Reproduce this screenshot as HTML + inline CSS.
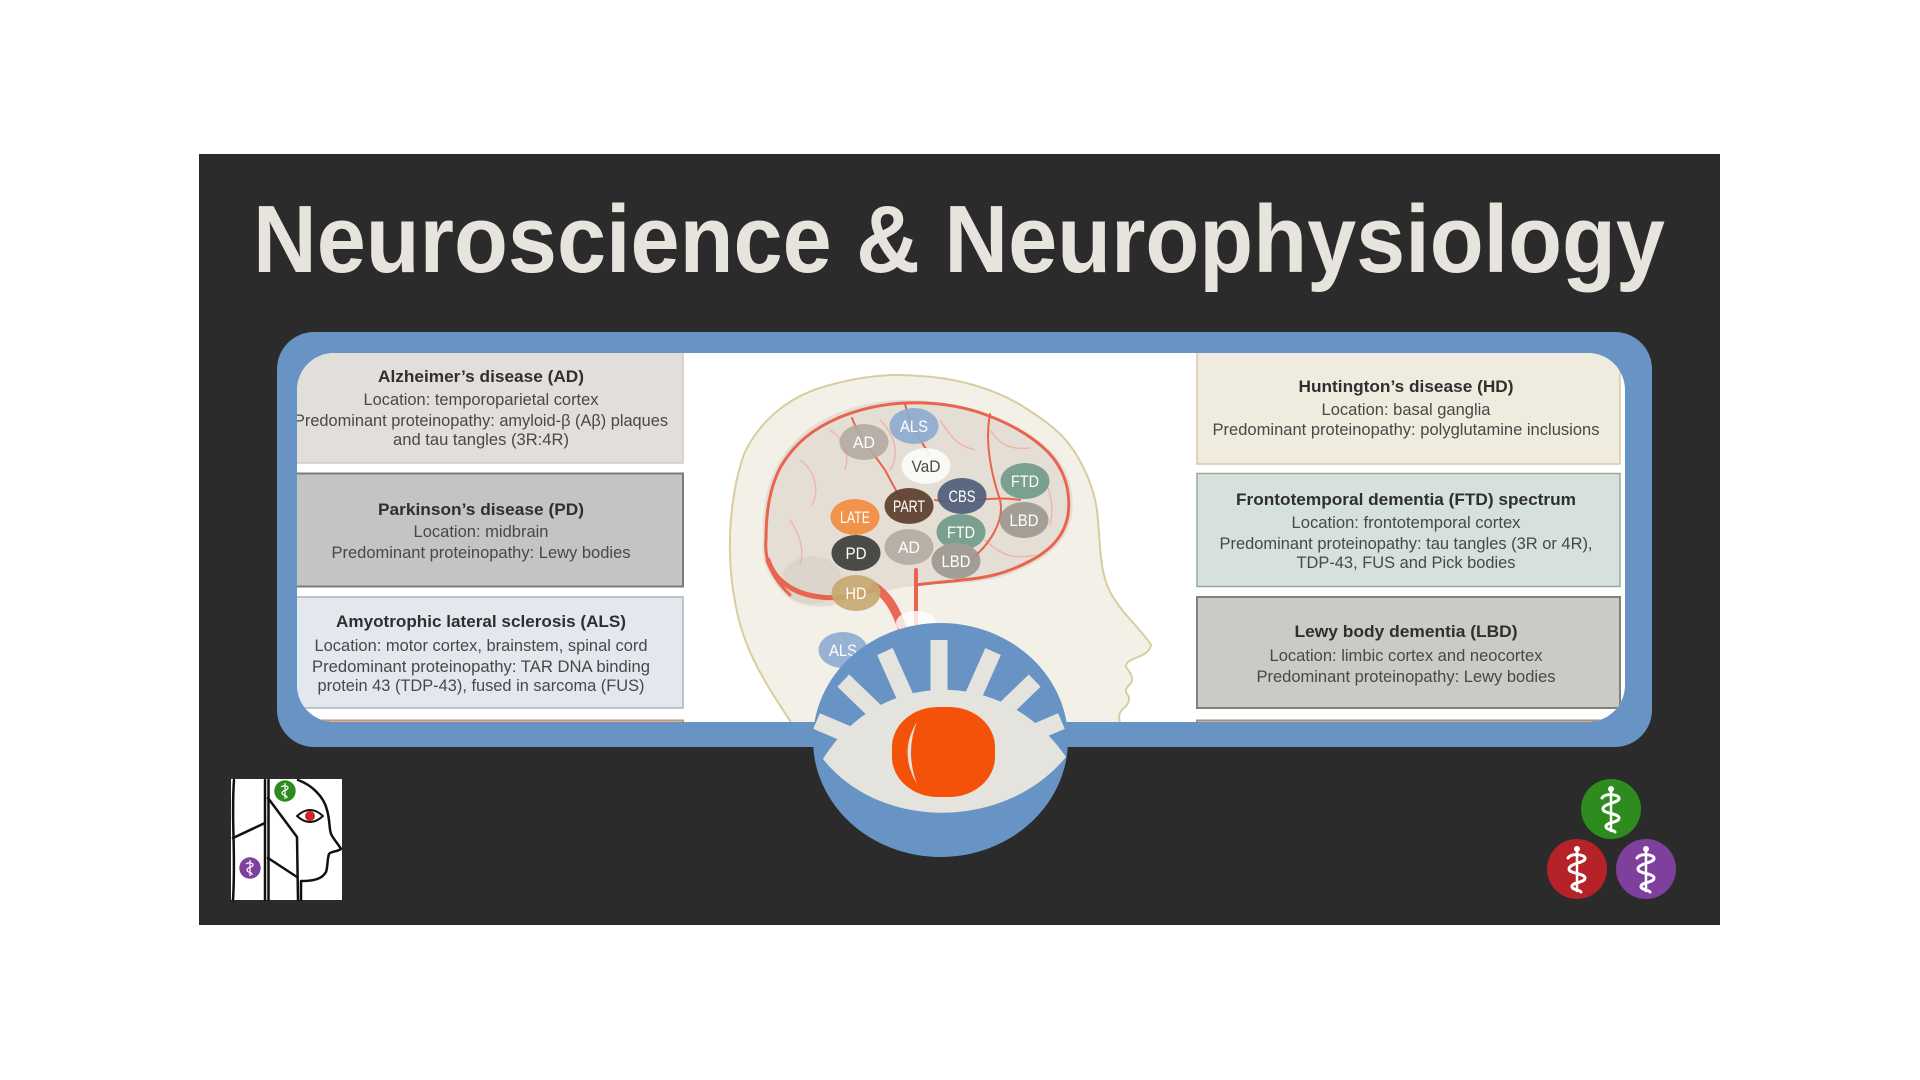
<!DOCTYPE html>
<html><head><meta charset="utf-8"><style>html,body{margin:0;padding:0;background:#fff}svg{display:block}</style></head>
<body>
<svg xmlns="http://www.w3.org/2000/svg" width="1920" height="1080" viewBox="0 0 1920 1080">
<defs>
<clipPath id="inner"><rect x="297" y="353" width="1328" height="369" rx="37"/></clipPath>
<clipPath id="eyec"><ellipse cx="940.5" cy="740" rx="127.5" ry="117"/></clipPath>
</defs>
<rect width="1920" height="1080" fill="#ffffff"/>
<rect x="199" y="154" width="1521" height="771" fill="#2b2b2b"/>
<text x="253" y="272" font-family="Liberation Sans, sans-serif" font-weight="bold" font-size="96" fill="#e6e4dd" textLength="1412" lengthAdjust="spacingAndGlyphs">Neuroscience &amp; Neurophysiology</text>

<rect x="277" y="332" width="1375" height="415" rx="37" fill="#6894c5"/>
<g clip-path="url(#inner)">
<rect x="297" y="353" width="1328" height="369" fill="#ffffff"/>

<!-- left boxes -->
<rect x="290" y="350" width="393" height="113" fill="#e2dfdb" stroke="#cfcac5" stroke-width="1.5"/>
<rect x="290" y="473.5" width="393" height="113" fill="#c4c4c4" stroke="#7b7b7b" stroke-width="2"/>
<rect x="290" y="597" width="393" height="111" fill="#e3e8ef" stroke="#a8b4c4" stroke-width="1.5"/>
<rect x="290" y="720.5" width="393" height="30" fill="#ead9c9" stroke="#c39677" stroke-width="2"/>
<!-- right boxes -->
<rect x="1197" y="350" width="423" height="114" fill="#efebdf" stroke="#d5cba6" stroke-width="1.5"/>
<rect x="1197" y="473.5" width="423" height="113" fill="#d6e1dc" stroke="#93aaa1" stroke-width="1.5"/>
<rect x="1197" y="597" width="423" height="111" fill="#cbcac4" stroke="#82827b" stroke-width="2"/>
<rect x="1197" y="720.5" width="423" height="30" fill="#e0d3c8" stroke="#a98d7a" stroke-width="2"/>

<g font-family="Liberation Sans, sans-serif" text-anchor="middle">
<g font-weight="bold" font-size="17" fill="#2f2f2f">
<text x="481" y="382" textLength="206" lengthAdjust="spacingAndGlyphs">Alzheimer’s disease (AD)</text>
<text x="481" y="515" textLength="206" lengthAdjust="spacingAndGlyphs">Parkinson’s disease (PD)</text>
<text x="481" y="627" textLength="290" lengthAdjust="spacingAndGlyphs">Amyotrophic  lateral sclerosis (ALS)</text>
<text x="1406" y="392" textLength="215" lengthAdjust="spacingAndGlyphs">Huntington’s disease (HD)</text>
<text x="1406" y="505" textLength="340" lengthAdjust="spacingAndGlyphs">Frontotemporal dementia (FTD) spectrum</text>
<text x="1406" y="637" textLength="223" lengthAdjust="spacingAndGlyphs">Lewy body dementia (LBD)</text>
</g>
<g font-size="16.5" fill="#484848">
<text x="481" y="405" textLength="235" lengthAdjust="spacingAndGlyphs">Location: temporoparietal cortex</text>
<text x="481" y="426" textLength="374" lengthAdjust="spacingAndGlyphs">Predominant proteinopathy: amyloid-β (Aβ) plaques</text>
<text x="481" y="445" textLength="176" lengthAdjust="spacingAndGlyphs">and tau tangles (3R:4R)</text>
<text x="481" y="537" textLength="135" lengthAdjust="spacingAndGlyphs">Location: midbrain</text>
<text x="481" y="558" textLength="299" lengthAdjust="spacingAndGlyphs">Predominant proteinopathy: Lewy bodies</text>
<text x="481" y="651" textLength="333" lengthAdjust="spacingAndGlyphs">Location: motor cortex, brainstem, spinal cord</text>
<text x="481" y="672" textLength="338" lengthAdjust="spacingAndGlyphs">Predominant proteinopathy: TAR DNA  binding</text>
<text x="481" y="691" textLength="327" lengthAdjust="spacingAndGlyphs">protein 43 (TDP-43), fused in sarcoma (FUS)</text>
<text x="1406" y="415" textLength="169" lengthAdjust="spacingAndGlyphs">Location: basal ganglia</text>
<text x="1406" y="435" textLength="387" lengthAdjust="spacingAndGlyphs">Predominant proteinopathy: polyglutamine inclusions</text>
<text x="1406" y="528" textLength="229" lengthAdjust="spacingAndGlyphs">Location: frontotemporal cortex</text>
<text x="1406" y="549" textLength="373" lengthAdjust="spacingAndGlyphs">Predominant proteinopathy: tau tangles (3R or 4R),</text>
<text x="1406" y="568" textLength="219" lengthAdjust="spacingAndGlyphs">TDP-43, FUS and Pick bodies</text>
<text x="1406" y="661" textLength="273" lengthAdjust="spacingAndGlyphs">Location: limbic  cortex and neocortex</text>
<text x="1406" y="682" textLength="299" lengthAdjust="spacingAndGlyphs">Predominant proteinopathy: Lewy bodies</text>
</g>
</g>

<!-- head -->
<path d="M 796 730 C 770 690, 745 655, 736 607 C 726 560, 728 500, 744 454 C 760 420, 790 395, 830 385 C 870 374, 900 374, 919 376 C 960 378, 995 390, 1019 404 C 1045 420, 1060 432, 1069 444 C 1085 465, 1094 490, 1097 510 C 1100 540, 1100 560, 1104 575 C 1108 592, 1115 600, 1122 610 C 1132 622, 1145 635, 1151 645 C 1150 652, 1143 655, 1138 657 C 1130 660, 1125 663, 1126 667 C 1130 672, 1134 678, 1131 683 C 1127 687, 1124 690, 1127 694 C 1131 698, 1129 704, 1123 709 C 1118 713, 1118 718, 1122 730 Z" fill="#f3f1e7" stroke="#d8cd9f" stroke-width="2"/>
<!-- brain -->
<path d="M 786 596 C 770 580, 760 560, 763 541 C 762 510, 765 490, 775 470 C 790 440, 810 425, 833 415 C 860 403, 886 400, 905 400 C 930 400, 953 403, 975 410 C 1003 420, 1030 432, 1050 450 C 1068 468, 1075 490, 1072 515 C 1068 540, 1050 555, 1030 565 C 1005 578, 985 582, 960 583 C 940 584, 920 585, 900 588 C 870 594, 850 602, 830 606 C 810 608, 795 604, 786 596 Z" fill="#e4ded5"/>
<ellipse cx="812" cy="580" rx="30" ry="24" fill="#dcd5cb"/>
<g fill="none" stroke="#f2b1a6" stroke-width="1.3">
<path d="M 800 460 C 815 470, 820 490, 812 505"/>
<path d="M 830 430 C 845 440, 850 455, 845 470"/>
<path d="M 880 420 C 895 435, 900 455, 890 470"/>
<path d="M 990 430 C 1000 445, 1010 450, 1030 448"/>
<path d="M 1040 470 C 1050 490, 1055 505, 1050 525"/>
<path d="M 985 540 C 1000 555, 1015 560, 1035 555"/>
<path d="M 790 520 C 800 535, 805 550, 800 565"/>
<path d="M 940 420 C 950 435, 955 445, 975 450"/>
</g>
<g fill="none" stroke="#e8644f" stroke-width="3" stroke-linecap="round">
<path d="M 790 595 C 772 578, 764 560, 766 540 C 766 510, 770 488, 780 468 C 795 442, 815 428, 838 418 C 862 408, 885 404, 905 403 C 930 402, 955 405, 978 412 C 1005 421, 1030 434, 1048 452 C 1065 470, 1071 492, 1068 515 C 1064 538, 1048 552, 1028 562 C 1005 574, 985 578, 962 580 C 945 582, 930 583, 916 585"/>
<path d="M 852 418 C 860 440, 875 455, 885 470 C 893 485, 898 495, 905 505" stroke-width="2"/>
<path d="M 905 404 C 910 425, 920 440, 930 455" stroke-width="2"/>
<path d="M 990 414 C 985 440, 990 470, 1000 500 C 1005 520, 990 545, 970 560" stroke-width="2"/>
<path d="M 935 500 C 960 505, 990 495, 1020 500" stroke-width="2"/>
<path d="M 768 560 C 775 582, 795 594, 820 597 C 845 600, 862 594, 875 588" stroke-width="5"/>
<path d="M 916 570 L 916 625" stroke-width="4"/>
</g>
<path d="M 872 585 C 886 594, 896 606, 906 640" fill="none" stroke="#e86a55" stroke-width="9"/>
<ellipse cx="916" cy="623" rx="20" ry="12" fill="#ffffff" opacity="0.8"/>

<!-- bubbles -->
<g opacity="0.9">
<ellipse cx="864" cy="442" rx="24.5" ry="18" fill="#b4aaa1"/>
<ellipse cx="914" cy="426" rx="24.5" ry="18" fill="#8dabd0"/>
<ellipse cx="926" cy="466" rx="24.5" ry="18" fill="#fcfcfa"/>
<ellipse cx="962" cy="496" rx="24.5" ry="18" fill="#4c5d79"/>
<ellipse cx="909" cy="506" rx="24.5" ry="18" fill="#5b3b2b"/>
<ellipse cx="1025" cy="481" rx="24.5" ry="18" fill="#6f9a89"/>
<ellipse cx="1024" cy="520" rx="24.5" ry="18" fill="#9c988f"/>
<ellipse cx="855" cy="517" rx="24.5" ry="18" fill="#f38b3c"/>
<ellipse cx="961" cy="532" rx="24.5" ry="18" fill="#6f9a89"/>
<ellipse cx="909" cy="547" rx="24.5" ry="18" fill="#b4aaa1"/>
<ellipse cx="856" cy="553" rx="24.5" ry="18" fill="#3a3a37"/>
<ellipse cx="956" cy="561" rx="24.5" ry="18" fill="#9c988f"/>
<ellipse cx="856" cy="593" rx="24.5" ry="18" fill="#c7a970"/>
<ellipse cx="843" cy="650" rx="24.5" ry="18" fill="#8dabd0"/>
</g>
<g font-family="Liberation Sans Narrow, Liberation Sans, sans-serif" font-size="17" fill="#ffffff" text-anchor="middle">
<text x="864" y="448" textLength="22" lengthAdjust="spacingAndGlyphs">AD</text>
<text x="914" y="432" textLength="28" lengthAdjust="spacingAndGlyphs">ALS</text>
<text x="926" y="472" textLength="29" lengthAdjust="spacingAndGlyphs" fill="#4a4a4a">VaD</text>
<text x="962" y="502" textLength="27" lengthAdjust="spacingAndGlyphs">CBS</text>
<text x="909" y="512" textLength="32" lengthAdjust="spacingAndGlyphs">PART</text>
<text x="1025" y="487" textLength="28" lengthAdjust="spacingAndGlyphs">FTD</text>
<text x="1024" y="526" textLength="29" lengthAdjust="spacingAndGlyphs">LBD</text>
<text x="855" y="523" textLength="30" lengthAdjust="spacingAndGlyphs">LATE</text>
<text x="961" y="538" textLength="28" lengthAdjust="spacingAndGlyphs">FTD</text>
<text x="909" y="553" textLength="22" lengthAdjust="spacingAndGlyphs">AD</text>
<text x="856" y="559" textLength="21" lengthAdjust="spacingAndGlyphs">PD</text>
<text x="956" y="567" textLength="29" lengthAdjust="spacingAndGlyphs">LBD</text>
<text x="856" y="599" textLength="21" lengthAdjust="spacingAndGlyphs">HD</text>
<text x="843" y="656" textLength="28" lengthAdjust="spacingAndGlyphs">ALS</text>
</g>
</g>

<!-- eye logo -->
<ellipse cx="940.5" cy="740" rx="127.5" ry="117" fill="#6894c5"/>
<g clip-path="url(#eyec)" fill="#e4e3de">
<rect x="930.5" y="640" width="17" height="65" transform="rotate(-67 939 773)"/>
<rect x="930.5" y="640" width="17" height="65" transform="rotate(-46 939 773)"/>
<rect x="930.5" y="640" width="17" height="65" transform="rotate(-24 939 773)"/>
<rect x="930.5" y="640" width="17" height="65"/>
<rect x="930.5" y="640" width="17" height="65" transform="rotate(24 939 773)"/>
<rect x="930.5" y="640" width="17" height="65" transform="rotate(46 939 773)"/>
<rect x="930.5" y="640" width="17" height="65" transform="rotate(67 939 773)"/>
<path d="M 823 759 C 880 667, 1005 667, 1066 757 C 1005 831, 880 831, 823 759 Z"/>
</g>
<rect x="892" y="707" width="103" height="90" rx="46" ry="40" fill="#f45208"/>
<path d="M 917 722 Q 898 752 917 784 Q 905 752 917 722 Z" fill="#e4e3de"/>

<!-- bottom-left logo -->
<rect x="231" y="779" width="111" height="121" fill="#ffffff"/>
<g fill="none" stroke="#111" stroke-width="2.5" stroke-linecap="round" stroke-linejoin="round">
<path d="M 234 780 C 231 820, 236 850, 233 900"/>
<path d="M 233 838 L 265 823"/>
<path d="M 265 780 L 265 900"/>
<path d="M 268.5 780 L 268.5 900"/>
<path d="M 268 798 L 297 837 L 298 900"/>
<path d="M 268 858 L 297 877"/>
<path d="M 298 780 C 312 785, 324 797, 327 810 C 330 820, 329 828, 331 834 C 334 840, 339 845, 341 849 C 337 852, 331 851, 329 854 C 327 860, 328 866, 326 872 C 322 879, 314 881, 301 881 L 301 900"/>
<path d="M 297 816 Q 310 804 323 816 Q 310 828 297 816 Z" stroke-width="2"/>
</g>
<circle cx="310" cy="816" r="5" fill="#c9252a"/>
<circle cx="285" cy="791" r="10.7" fill="#2e8b1e"/>
<circle cx="250" cy="868" r="10.7" fill="#7f3f9c"/>
<g stroke="#fff" fill="none" stroke-width="1.2">
<path d="M285 783 L285 799 M281 787 C283 785 289 786 288 788 C287 791 282 790 282 793 C282 796 288 795 287 798"/>
<path d="M250 860 L250 876 M246 864 C248 862 254 863 253 865 C252 868 247 867 247 870 C247 873 253 872 252 875"/>
</g>

<!-- bottom-right caduceus circles -->
<circle cx="1611" cy="809" r="30" fill="#2e8b1e"/>
<circle cx="1577" cy="869" r="30" fill="#b52227"/>
<circle cx="1646" cy="869" r="30" fill="#7f3f9c"/>
<g fill="none" stroke="#ffffff" stroke-linecap="round">
<g transform="translate(1611 809)">
<line x1="0" y1="-18" x2="0" y2="22" stroke-width="2.5"/>
<circle cx="0" cy="-20" r="3" fill="#fff" stroke="none"/>
<path d="M-9,-11 C-6,-16 7,-15 8,-11 C9,-6 -8,-6 -8,0 C-8,5 8,4 8,9 C8,14 -6,13 -5,18 C-4,21 3,21 4,23" stroke-width="3"/>
</g>
<g transform="translate(1577 869)">
<line x1="0" y1="-18" x2="0" y2="22" stroke-width="2.5"/>
<circle cx="0" cy="-20" r="3" fill="#fff" stroke="none"/>
<path d="M-9,-11 C-6,-16 7,-15 8,-11 C9,-6 -8,-6 -8,0 C-8,5 8,4 8,9 C8,14 -6,13 -5,18 C-4,21 3,21 4,23" stroke-width="3"/>
</g>
<g transform="translate(1646 869)">
<line x1="0" y1="-18" x2="0" y2="22" stroke-width="2.5"/>
<circle cx="0" cy="-20" r="3" fill="#fff" stroke="none"/>
<path d="M-9,-11 C-6,-16 7,-15 8,-11 C9,-6 -8,-6 -8,0 C-8,5 8,4 8,9 C8,14 -6,13 -5,18 C-4,21 3,21 4,23" stroke-width="3"/>
</g>
</g>
</svg>
</body></html>
